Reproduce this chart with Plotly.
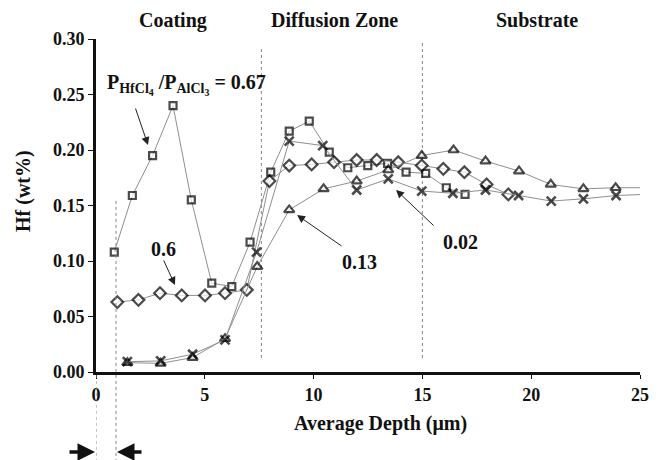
import plotly.graph_objects as go

# ---- data ----
sq_x = [0.84, 1.67, 2.6, 3.54, 4.38, 5.32, 6.24, 7.08, 8.03, 8.88, 9.8, 10.72, 11.57, 12.49, 13.4, 14.25, 15.15, 16.1, 16.96]
sq_y = [0.108, 0.159, 0.195, 0.240, 0.155, 0.080, 0.077, 0.117, 0.180, 0.217, 0.226, 0.198, 0.184, 0.186, 0.188, 0.180, 0.179, 0.166, 0.160]

di_x = [0.98, 1.95, 2.94, 3.94, 5.01, 5.93, 6.93, 7.97, 8.88, 9.91, 10.94, 11.98, 12.9, 13.89, 14.97, 15.96, 16.93, 17.95, 18.95]
di_y = [0.063, 0.065, 0.071, 0.069, 0.069, 0.071, 0.074, 0.172, 0.186, 0.187, 0.189, 0.191, 0.191, 0.189, 0.186, 0.183, 0.180, 0.169, 0.160]

tr_x = [1.44, 2.97, 4.44, 5.93, 7.41, 8.88, 10.46, 11.98, 13.43, 14.97, 16.43, 17.9, 19.44, 20.9, 22.4, 23.88, 25.2]
tr_y = [0.0084, 0.0078, 0.013, 0.030, 0.095, 0.146, 0.165, 0.172, 0.182, 0.195, 0.200, 0.190, 0.181, 0.169, 0.165, 0.166, 0.166]

xx_x = [1.44, 2.97, 4.44, 5.93, 7.38, 8.88, 10.42, 11.98, 13.43, 14.97, 16.4, 17.9, 19.42, 20.92, 22.4, 23.9, 25.2]
xx_y = [0.0093, 0.010, 0.016, 0.029, 0.108, 0.208, 0.204, 0.164, 0.174, 0.163, 0.161, 0.164, 0.159, 0.154, 0.156, 0.159, 0.160]

zone_bounds = [7.6, 15.0]
coating_marks = [0.0, 0.92]
zone_labels = ["Coating", "Diffusion Zone", "Substrate"]
zone_label_x = [3.54, 10.94, 20.27]

x_ticks = [0, 5, 10, 15, 20, 25]
y_ticks = [0.00, 0.05, 0.10, 0.15, 0.20, 0.25, 0.30]

FONT = "Liberation Serif"
LINE = "#8f8f8f"
INK = "#000000"

fig = go.Figure()

def add_series(xs, ys, symbol, size, lw, tail=False):
    sizes = [size] * len(xs)
    if tail:
        sizes[-1] = 0
    fig.add_trace(go.Scatter(
        x=xs, y=ys, mode="lines+markers",
        line=dict(color=LINE, width=1),
        marker=dict(symbol=symbol, size=sizes, color="white",
                    line=dict(color=INK, width=lw)),
        showlegend=False, cliponaxis=False))

add_series(sq_x, sq_y, "square", 7, 2.2)
add_series(di_x, di_y, "diamond", 9, 2.2)
add_series(tr_x, tr_y, "triangle-up", 9, 2.2, tail=True)
add_series(xx_x, xx_y, "x-thin", 9, 2.6, tail=True)

shapes = []
for b, y1 in zip(zone_bounds, [0.292, 0.298]):
    shapes.append(dict(type="line", xref="x", yref="y", x0=b, x1=b, y0=0.0126, y1=y1,
                       line=dict(color="#888", width=1, dash="dot"), layer="below"))
shapes.append(dict(type="line", xref="x", yref="paper", x0=coating_marks[0], x1=coating_marks[0],
                   y0=-0.27, y1=0, line=dict(color="#888", width=1, dash="dot")))
shapes.append(dict(type="line", xref="x", yref="paper", x0=coating_marks[1], x1=coating_marks[1],
                   y0=-0.27, y1=(372 - 200) / 333, line=dict(color="#888", width=1, dash="dot")))

annotations = []
for lab, lx in zip(zone_labels, zone_label_x):
    annotations.append(dict(x=lx, y=(372 - 20) / 333, xref="x", yref="paper", text=lab,
                            xanchor="center", yanchor="middle",
                            showarrow=False, font=dict(family=FONT, size=20, color="#111")))

bold = dict(family=FONT, size=20, color="#111")
annotations += [
    dict(x=4.18, y=0.2586, text="P<sub>HfCl<sub>4</sub></sub> /P<sub>AlCl<sub>3</sub></sub> = 0.67",
         showarrow=False, font=bold, xanchor="center", yanchor="middle"),
    dict(x=3.08, y=0.111, text="0.6", showarrow=False, font=bold, xanchor="center", yanchor="middle"),
    dict(x=12.13, y=0.099, text="0.13", showarrow=False, font=bold, xanchor="center", yanchor="middle"),
    dict(x=16.73, y=0.117, text="0.02", showarrow=False, font=bold, xanchor="center", yanchor="middle"),
]
for hx, hy, ax, ay in [(2.39, 0.2045, -13, -38), (3.63, 0.0784, -12, -26),
                       (9.24, 0.1414, 46, 32), (13.79, 0.164, 39, 37)]:
    annotations.append(dict(x=hx, y=hy, ax=ax, ay=ay, text="", showarrow=True,
                            arrowhead=2, arrowsize=1.6, arrowwidth=1, arrowcolor="#222"))
py = (372 - 452) / 333
annotations.append(dict(x=(95 - 96) / 544, y=py, xref="paper", yref="paper", ax=-27, ay=0,
                        text="", showarrow=True, arrowhead=2, arrowsize=1.0, arrowwidth=3.5, arrowcolor="#111"))
annotations.append(dict(x=(117 - 96) / 544, y=py, xref="paper", yref="paper", ax=26, ay=0,
                        text="", showarrow=True, arrowhead=2, arrowsize=1.0, arrowwidth=3.5, arrowcolor="#111"))
annotations.append(dict(x=(380 - 96) / 544, y=(372 - 423) / 333, xref="paper", yref="paper",
                        text="Average Depth (μm)", showarrow=False, xanchor="center", yanchor="middle",
                        font=dict(family=FONT, size=20, color="#111")))
annotations.append(dict(x=(23 - 96) / 544, y=(372 - 191) / 333, xref="paper", yref="paper",
                        text="Hf (wt%)", showarrow=False, textangle=-90, xanchor="center", yanchor="middle",
                        font=dict(family=FONT, size=20, color="#111")))

fig.update_layout(
    width=662, height=460,
    margin=dict(l=96, r=22, t=39, b=88),
    paper_bgcolor="white", plot_bgcolor="white",
    shapes=shapes, annotations=annotations,
    font=dict(family=FONT, size=18, color="#111"),
    xaxis=dict(range=[0, 25], tickvals=x_ticks, ticktext=[str(t) for t in x_ticks],
               showgrid=False, zeroline=False, showline=True, linecolor="#111", linewidth=3,
               ticks="outside", ticklen=4, tickcolor="#111",
               tickfont=dict(family=FONT, size=18, color="#111", weight="bold")),
    yaxis=dict(range=[0, 0.30], tickvals=y_ticks, ticktext=[f"{t:.2f}" for t in y_ticks],
               showgrid=False, zeroline=False, showline=True, linecolor="#111", linewidth=3,
               ticks="outside", ticklen=5, tickcolor="#111",
               tickfont=dict(family=FONT, size=18, color="#111", weight="bold")),
)
for a in fig.layout.annotations:
    a.font.weight = "bold"

fig.write_html("out.html")
